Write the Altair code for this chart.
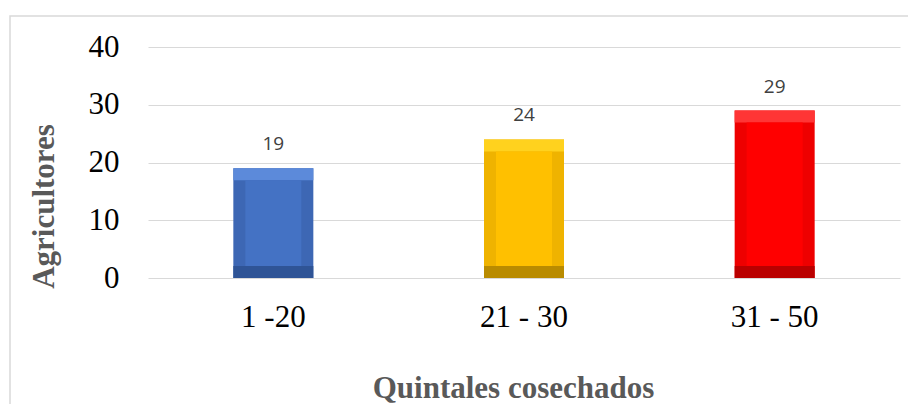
import altair as alt
import pandas as pd

categories = ["1 -20", "21 - 30", "31 - 50"]
agricultores = [19, 24, 29]

df = pd.DataFrame({"cat": categories, "val": agricultores})

main_cols = ["#4472C4", "#FFC000", "#FF0000"]
side_cols = ["#3D67B4", "#EFB300", "#EE0000"]
top_cols = ["#5C8ADA", "#FFD21E", "#FF3535"]
bot_cols = ["#2F5496", "#B98B00", "#BA0000"]

BEV = 12

x_enc = alt.X("cat:N", sort=categories, title="Quintales cosechados",
              axis=alt.Axis(labelAngle=0, labelFont="Liberation Serif", labelFontSize=31,
                            labelColor="#000000", labelPadding=24, domain=False, ticks=False,
                            titleFont="Liberation Serif", titleFontSize=31, titleFontWeight="bold",
                            titleColor="#595959", titleX=365, titleY=119,
                            titleBaseline="alphabetic", titleAlign="center"))
y_scale = alt.Scale(domain=[0, 40])


def col(rng):
    return alt.Color("cat:N", scale=alt.Scale(domain=categories, range=rng), legend=None)


base = alt.Chart(df)

outer = base.mark_bar(size=80).encode(
    x=x_enc,
    y=alt.Y("val:Q", scale=y_scale, title="Agricultores",
            axis=alt.Axis(values=[0, 10, 20, 30, 40], labelFont="Liberation Serif",
                          labelFontSize=31, labelColor="#000000", labelPadding=29,
                          domain=False, ticks=False, gridColor="#D9D9D9", gridWidth=1,
                          titleFont="Liberation Serif", titleFontSize=31, titleFontWeight="bold",
                          titleColor="#595959", titleAngle=-90, titleX=-95, titleY=159,
                          titleAlign="center", titleBaseline="alphabetic")),
    color=col(side_cols),
)

top_strip = base.mark_bar(size=80, y2Offset=BEV).encode(
    x=alt.X("cat:N", sort=categories),
    y=alt.Y("val:Q", scale=y_scale),
    y2="val:Q",
    color=col(top_cols),
)

bot_strip = base.mark_bar(size=80, yOffset=-BEV).encode(
    x=alt.X("cat:N", sort=categories),
    y=alt.Y(datum=0, scale=y_scale),
    y2=alt.Y2(datum=0),
    color=col(bot_cols),
)

inner = base.mark_bar(size=80 - 2 * BEV, yOffset=BEV, y2Offset=-BEV).encode(
    x=alt.X("cat:N", sort=categories),
    y=alt.Y("val:Q", scale=y_scale),
    y2=alt.Y2(datum=0),
    color=col(main_cols),
)

labels = base.mark_text(dy=-18, baseline="alphabetic", font="Open Sans", fontSize=19,
                        color="#404040").encode(
    x=alt.X("cat:N", sort=categories),
    y=alt.Y("val:Q", scale=y_scale),
    text="val:Q",
)

frame = alt.Chart(pd.DataFrame({"a": [0]})).mark_rect(fill=None, stroke="#D9D9D9",
                                                       strokeWidth=1.5).encode(
    x=alt.value(-138), x2=alt.value(900), y=alt.value(-31), y2=alt.value(420))

chart = alt.layer(frame, outer, top_strip, bot_strip, inner, labels).resolve_scale(
    color="independent"
).properties(
    width=752, height=231,
    padding={"left": 140, "top": 39, "right": 8, "bottom": 135},
    autosize=alt.AutoSizeParams(type="none"),
).configure_view(stroke=None)

chart.save("out.html", embed_options={"renderer": "svg", "actions": False})
